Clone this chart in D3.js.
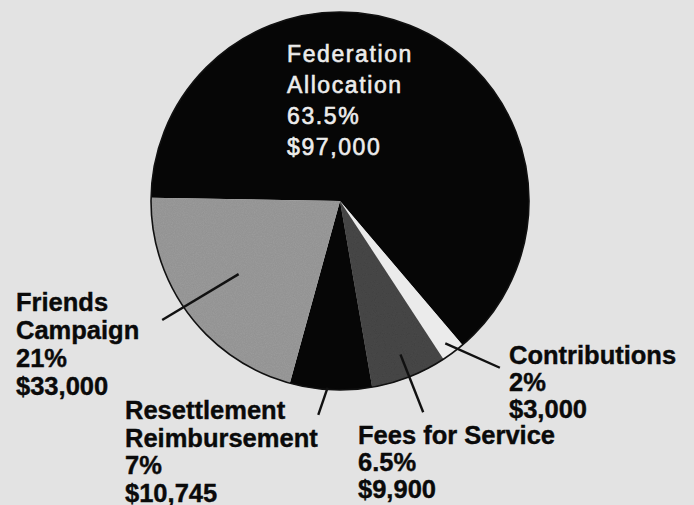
<!DOCTYPE html>
<html>
<head>
<meta charset="utf-8">
<script src="https://cdnjs.cloudflare.com/ajax/libs/d3/7.8.5/d3.min.js"></script>
<style>
  html, body { margin: 0; padding: 0; background: #e3e3e3; }
  svg { display: block; }
</style>
</head>
<body>
<div id="pie"></div>
<script>
// Chart data
var nameLines = [
  ["Federation", "Allocation"],
  ["Contributions"],
  ["Fees for Service"],
  ["Resettlement", "Reimbursement"],
  ["Friends", "Campaign"]
];
var categories = nameLines.map(d => d.join(" "));
var percents = [63.5, 2, 6.5, 7, 21];
var percentLabels = ["63.5%", "2%", "6.5%", "7%", "21%"];
var amountLabels = ["$97,000", "$3,000", "$9,900", "$10,745", "$33,000"];

// Canvas
var svgWidth = 694;
var svgHeight = 505;
var center = { x: 340, y: 201 };
var radius = 189;

// Layout of the labels and leader lines (one entry per slice)
var fills = ["#060606", "#ebebeb", "#484848", "#060606", "#9d9d9d"];
var labelPos = [
  { x: 287, y: 62, step: 31 },
  { x: 509, y: 364, step: 27 },
  { x: 358, y: 444, step: 27 },
  { x: 125, y: 419, step: 27.5 },
  { x: 16, y: 311, step: 28 }
];
var leaders = [
  null,
  { r0: 177, a0: 0.3, r1: 231, a1: -7 },
  { r0: 165, a0: 0, r1: 227, a1: 0 },
  { r0: 187, a0: 1, r1: 215, a1: 3 },
  { r0: 125, a0: 1, r1: 214, a1: 3 }
];

var svg = d3.select("#pie")
  .append("svg")
  .attr("width", svgWidth)
  .attr("height", svgHeight);

// grain for the printed halftone look
var defs = svg.append("defs");
var grain = defs.append("filter")
  .attr("id", "grain")
  .attr("x", 0).attr("y", 0).attr("width", "100%").attr("height", "100%");
grain.append("feTurbulence")
  .attr("type", "fractalNoise")
  .attr("baseFrequency", 0.9)
  .attr("numOctaves", 2)
  .attr("seed", 3)
  .attr("result", "noise");
grain.append("feColorMatrix")
  .attr("in", "noise")
  .attr("type", "matrix")
  .attr("values", "0 0 0 0 0  0 0 0 0 0  0 0 0 0 0  0 0 0 0.18 0")
  .attr("result", "dots");
grain.append("feComposite")
  .attr("in", "dots")
  .attr("in2", "SourceGraphic")
  .attr("operator", "in")
  .attr("result", "dotsIn");
grain.append("feMerge").selectAll("feMergeNode")
  .data(["SourceGraphic", "dotsIn"])
  .enter()
  .append("feMergeNode")
  .attr("in", d => d);

svg.append("rect")
  .attr("width", svgWidth)
  .attr("height", svgHeight)
  .attr("fill", "#e3e3e3");

var chartGroup = svg.append("g")
  .attr("transform", `translate(${center.x}, ${center.y})`);

var toRad = Math.PI / 180;
var startDeg = -89;

var pie = d3.pie()
  .sort(null)
  .value(d => d)
  .startAngle(startDeg * toRad)
  .endAngle((startDeg + 360) * toRad);

var arcs = pie(percents);

var arc = d3.arc()
  .innerRadius(0)
  .outerRadius(radius);

// Slices
chartGroup.selectAll("path.slice")
  .data(arcs)
  .enter()
  .append("path")
  .attr("class", "slice")
  .attr("d", arc)
  .attr("fill", (d, i) => fills[i])
  .attr("filter", (d, i) => (i === 2 || i === 4) ? "url(#grain)" : null);

// Outer rim
chartGroup.append("circle")
  .attr("r", radius)
  .attr("fill", "none")
  .attr("stroke", "#111")
  .attr("stroke-width", 1.6);

// Leader lines, placed along each slice's mid angle
function polar(angle, r) {
  return [r * Math.sin(angle), -r * Math.cos(angle)];
}

chartGroup.selectAll("line.leader")
  .data(arcs.filter((d, i) => leaders[i]))
  .enter()
  .append("line")
  .attr("class", "leader")
  .each(function (d) {
    var L = leaders[d.index];
    var mid = (d.startAngle + d.endAngle) / 2;
    var p0 = polar(mid + L.a0 * toRad, L.r0);
    var p1 = polar(mid + L.a1 * toRad, L.r1);
    d3.select(this)
      .attr("x1", p0[0]).attr("y1", p0[1])
      .attr("x2", p1[0]).attr("y2", p1[1]);
  })
  .attr("stroke", "#111")
  .attr("stroke-width", 2.4);

// Labels
var labels = svg.selectAll("text.label")
  .data(arcs)
  .enter()
  .append("text")
  .attr("class", "label")
  .attr("x", (d, i) => labelPos[i].x)
  .attr("y", (d, i) => labelPos[i].y)
  .style("font-family", "'Liberation Sans', Arial, Helvetica, sans-serif")
  .style("font-size", (d, i) => i === 0 ? "23px" : "25.5px")
  .style("font-weight", (d, i) => i === 0 ? "normal" : "bold")
  .style("letter-spacing", (d, i) => i === 0 ? "1.6px" : "0px")
  .style("fill", (d, i) => i === 0 ? "#ececec" : "#0a0a0a")
  .style("stroke", (d, i) => i === 0 ? "#ececec" : "#0a0a0a")
  .style("stroke-width", (d, i) => i === 0 ? "0.6px" : "0.4px");

labels.each(function (d, i) {
  var lines = nameLines[i].concat([percentLabels[i], amountLabels[i]]);
  d3.select(this).selectAll("tspan")
    .data(lines)
    .enter()
    .append("tspan")
    .attr("x", labelPos[i].x)
    .attr("dy", (t, j) => j === 0 ? 0 : labelPos[i].step)
    .text(t => t);
});
</script>
</body>
</html>
